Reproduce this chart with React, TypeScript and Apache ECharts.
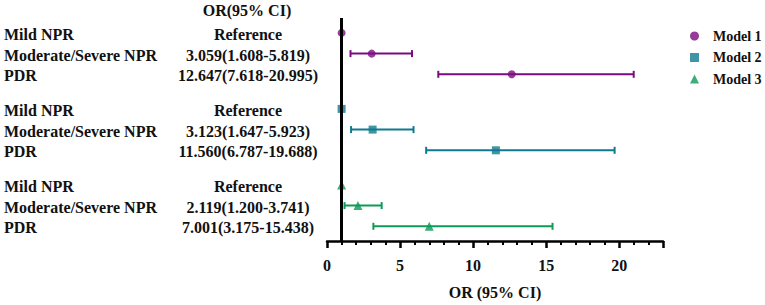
import React, { useEffect, useRef } from "react";
import * as echarts from "echarts";

const categories = ["Mild NPR", "Moderate/Severe NPR", "PDR"];
const models = ["Model 1", "Model 2", "Model 3"];
const model1OR = [1, 3.059, 12.647];
const model1Lo = [1, 1.608, 7.618];
const model1Hi = [1, 5.819, 20.995];
const model2OR = [1, 3.123, 11.56];
const model2Lo = [1, 1.647, 6.787];
const model2Hi = [1, 5.923, 19.688];
const model3OR = [1, 2.119, 7.001];
const model3Lo = [1, 1.2, 3.175];
const model3Hi = [1, 3.741, 15.438];
const xTicks = [0, 5, 10, 15, 20];

const COLORS = ["#7c0a80", "#0f7a8f", "#0e9a58"];
const SYMBOLS = ["circle", "rect", "triangle"];
const SYMBOL_SIZES = [8, 8, 9];
const GROUP_GAP = 3.67;
const FONT = "'Liberation Serif', 'Times New Roman', serif";

const ORs = [model1OR, model2OR, model3OR];
const LOs = [model1Lo, model2Lo, model3Lo];
const HIs = [model1Hi, model2Hi, model3Hi];

const pos = (g: number, r: number) => g * GROUP_GAP + r;

type Row = { pos: number; label: string; text: string };
const tableRows: Row[] = [];
models.forEach((_, g) => {
  categories.forEach((c, r) => {
    tableRows.push({
      pos: pos(g, r),
      label: c,
      text:
        r === 0
          ? "Reference"
          : `${ORs[g][r].toFixed(3)}(${LOs[g][r].toFixed(3)}-${HIs[g][r].toFixed(3)})`,
    });
  });
});

export default function App() {
  const ref = useRef<HTMLDivElement>(null);
  useEffect(() => {
    if (!ref.current) return;
    document.body.style.margin = "0";
    const chart = echarts.init(ref.current, undefined, { renderer: "svg" });
    const series: any[] = [];

    // reference line at OR = 1
    series.push({
      type: "line",
      data: [],
      z: 1,
      silent: true,
      markLine: {
        silent: true,
        symbol: ["none", "none"],
        label: { show: false },
        lineStyle: { color: "#000", width: 3, type: "solid" },
        data: [{ xAxis: 1 }],
      },
    });

    models.forEach((m, g) => {
      const bars = categories
        .map((_, r) => [LOs[g][r], HIs[g][r], pos(g, r), r])
        .filter((d) => d[3] > 0);
      series.push({
        type: "custom",
        name: m + " CI",
        z: 2,
        silent: true,
        encode: { x: [0, 1], y: 2 },
        data: bars,
        renderItem: (params: any, api: any) => {
          const p1 = api.coord([api.value(0), api.value(2)]);
          const p2 = api.coord([api.value(1), api.value(2)]);
          const h = 3.5;
          const style = { stroke: COLORS[g], lineWidth: 2 };
          return {
            type: "group",
            children: [
              { type: "line", shape: { x1: p1[0], y1: p1[1], x2: p2[0], y2: p2[1] }, style },
              { type: "line", shape: { x1: p1[0], y1: p1[1] - h, x2: p1[0], y2: p1[1] + h }, style },
              { type: "line", shape: { x1: p2[0], y1: p2[1] - h, x2: p2[0], y2: p2[1] + h }, style },
            ],
          };
        },
      });
      series.push({
        type: "scatter",
        name: m,
        z: 3,
        symbol: SYMBOLS[g],
        symbolSize: SYMBOL_SIZES[g],
        itemStyle: { color: COLORS[g] },
        data: categories.map((_, r) => [ORs[g][r], pos(g, r)]),
      });
    });

    // left table texts
    series.push({
      type: "custom",
      name: "table",
      silent: true,
      clip: false,
      encode: { x: 0, y: 1 },
      data: tableRows.map((r) => [0, r.pos]),
      renderItem: (params: any, api: any) => {
        const row = tableRows[params.dataIndex];
        const y = api.coord([0, api.value(1)])[1] + 1.5;
        return {
          type: "group",
          children: [
            {
              type: "text",
              x: 4,
              y,
              style: {
                text: row.label,
                font: `bold 16px ${FONT}`,
                fill: "#111",
                align: "left",
                verticalAlign: "middle",
              },
            },
            {
              type: "text",
              x: 248,
              y,
              style: {
                text: row.text,
                font: `bold 16px ${FONT}`,
                fill: "#111",
                align: "center",
                verticalAlign: "middle",
              },
            },
          ],
        };
      },
    });

    chart.setOption({
      animation: false,
      backgroundColor: "#fff",
      grid: { left: 327, right: 102, top: 18, bottom: 61 },
      graphic: [
        {
          type: "text",
          x: 247,
          y: 10,
          style: {
            text: "OR(95% CI)",
            font: `bold 16px ${FONT}`,
            fill: "#111",
            align: "center",
            verticalAlign: "middle",
          },
        },
      ],
      legend: {
        orient: "vertical",
        left: 685,
        top: 24,
        itemWidth: 9,
        itemHeight: 9,
        itemGap: 7.5,
        data: models.map((m, g) => ({ name: m, icon: SYMBOLS[g] })),
        textStyle: {
          fontFamily: FONT,
          fontWeight: "bold",
          fontSize: 14,
          lineHeight: 14,
          color: "#111",
          padding: [0, 0, 0, 9],
        },
      },
      xAxis: {
        type: "value",
        min: 0,
        max: 23,
        interval: 5,
        position: "bottom",
        name: "OR (95% CI)",
        nameLocation: "middle",
        nameGap: 43,
        nameTextStyle: { fontFamily: FONT, fontWeight: "bold", fontSize: 16, color: "#111" },
        axisLine: { show: true, onZero: false, lineStyle: { color: "#000", width: 2.5 } },
        axisTick: { show: true, length: 7, lineStyle: { color: "#000", width: 2.5 } },
        minorTick: { show: true, splitNumber: 5, length: 4, lineStyle: { color: "#000", width: 2 } },
        splitLine: { show: false },
        axisLabel: {
          margin: 16,
          fontFamily: FONT,
          fontWeight: "bold",
          fontSize: 16,
          color: "#111",
          customValues: xTicks,
        },
      },
      yAxis: {
        type: "value",
        inverse: true,
        min: -0.72,
        max: 10.05,
        show: false,
        splitLine: { show: false },
      },
      series,
    });
    return () => chart.dispose();
  }, []);
  return <div ref={ref} style={{ width: 765, height: 305 }} />;
}
